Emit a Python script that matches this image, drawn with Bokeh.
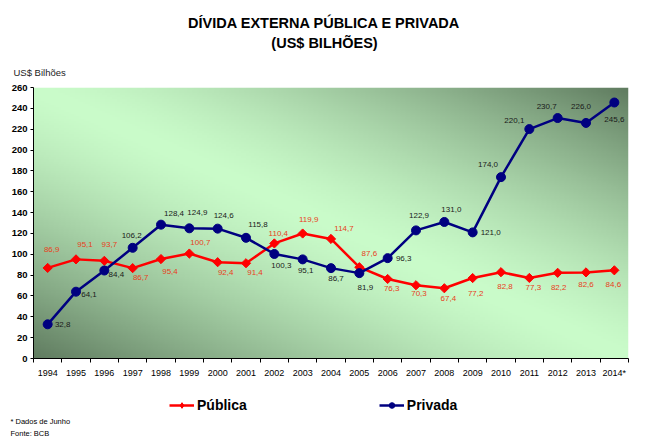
import numpy as np
from bokeh.plotting import figure
from bokeh.layouts import column
from bokeh.models import Range1d, FixedTicker, Legend, LegendItem, ColumnDataSource, Label, Title
from bokeh.core.properties import value
from bokeh.embed import file_html
from bokeh.resources import INLINE

# ---- data ----
years = ["1994", "1995", "1996", "1997", "1998", "1999", "2000", "2001", "2002", "2003",
         "2004", "2005", "2006", "2007", "2008", "2009", "2010", "2011", "2012", "2013", "2014*"]
publica = [86.9, 95.1, 93.7, 86.7, 95.4, 100.7, 92.4, 91.4, 110.4, 119.9, 114.7,
           87.6, 76.3, 70.3, 67.4, 77.2, 82.8, 77.3, 82.2, 82.6, 84.6]
privada = [32.8, 64.1, 84.4, 106.2, 128.4, 124.9, 124.6, 115.8, 100.3, 95.1, 86.7,
           81.9, 96.3, 122.9, 131.0, 121.0, 174.0, 220.1, 230.7, 226.0, 245.6]
y_ticks = list(range(0, 261, 20))

title_1 = "DÍVIDA EXTERNA PÚBLICA E PRIVADA"
title_2 = "(US$ BILHÕES)"
unit_label = "US$ Bilhões"
notes = ["* Dados de Junho", "Fonte: BCB"]

# ---- label placement (pixel offsets, style only) ----
pub_dx = [4, 9, 5, 8, 9, 11, 8, 9, 4, 6, 13, 10, 4, 3, 4, 3, 4, 4, 1, 0, -1]
pub_dy = [-18, -15, -16, 9, 12, -11, 10, 9, -10, -14, -10, -14, 10, 8, 10, 15, 14, 10, 15, 12, 14]
priv_dx = [15, 13, 12, -1, 13, 8, 6, 12, 7, 3, 5, 6, 16, 3, 7, 18, -13, -15, -11, -5, 0]
priv_dy = [0, 3, 4, -12, -11, -16, -13, -13, 12, 11, 10, 14, 0, -15, -12, 0, -13, -9, -12, -16, 17]

FONT = "Liberation Sans"
RED = "#ff0000"
NAVY = "#000080"
W_TOTAL = 649
H_TOP, H_BOT = 54, 58
FL, FR = 33, 628          # frame left/right in page pixels (frames are aligned by the column)

# ================= header figure (titles) =================
p0 = figure(width=W_TOTAL, height=H_TOP, output_backend="svg", toolbar_location=None,
            x_range=Range1d(FL, FR), y_range=Range1d(0, H_TOP),
            x_axis_type=None, y_axis_type=None, min_border=0)
p0.outline_line_color = None
p0.grid.visible = False
p0.add_layout(Label(x=324, y=H_TOP - 22, text=title_1, text_font=FONT, text_font_size="14.5px",
                    text_font_style="bold", text_align="center", text_baseline="middle",
                    text_color="black"))
p0.add_layout(Label(x=324, y=H_TOP - 42, text=title_2, text_font=FONT, text_font_size="14.5px",
                    text_font_style="bold", text_align="center", text_baseline="middle",
                    text_color="black"))

# ================= main chart =================
xs = list(range(len(years)))
x0, x1 = -0.5, len(years) - 0.5
y0, y1 = 0, 260

p = figure(frame_width=FR - FL, frame_height=271, output_backend="svg", toolbar_location=None,
           x_range=Range1d(x0, x1), y_range=Range1d(y0, y1),
           min_border_left=FL, min_border_right=W_TOTAL - FR, min_border_top=32, min_border_bottom=30,
           title=unit_label)
p.title.align = "left"
p.title.offset = -20
p.title.text_font = FONT
p.title.text_font_size = "9.5px"
p.title.text_font_style = "normal"
p.title.text_color = "#222222"
p.title.standoff = 20
p.outline_line_color = None
p.grid.visible = False
p.background_fill_color = "white"
p.border_fill_color = "white"

# gradient background of the plot area
H, W = 120, 240
xn = np.linspace(0, 1, W)[None, :]
yn = np.linspace(0, 1, H)[:, None]
s = np.abs(xn + yn - 1.0)
w = np.clip(s, 0, 1) ** 1.4
light = np.array([202, 252, 202])
dark = np.array([96, 124, 96])
rgb = light[None, None, :] * (1 - w[..., None]) + dark[None, None, :] * w[..., None]
img = np.empty((H, W), dtype=np.uint32)
view = img.view(dtype=np.uint8).reshape((H, W, 4))
view[..., 0] = rgb[..., 0].astype(np.uint8)
view[..., 1] = rgb[..., 1].astype(np.uint8)
view[..., 2] = rgb[..., 2].astype(np.uint8)
view[..., 3] = 255
p.image_rgba(image=[img], x=x0, y=y0, dw=x1 - x0, dh=y1 - y0)

# axes
p.xaxis.ticker = FixedTicker(ticks=xs, minor_ticks=[i - 0.5 for i in range(len(years) + 1)])
p.xaxis.major_label_overrides = {i: t for i, t in enumerate(years)}
p.xaxis.major_tick_out = 0
p.xaxis.major_tick_in = 0
p.xaxis.minor_tick_out = 4
p.xaxis.minor_tick_in = 0
p.xaxis.major_label_standoff = 5
p.xaxis.major_label_text_font = FONT
p.xaxis.major_label_text_font_size = "9px"
p.xaxis.major_label_text_color = "black"

p.yaxis.ticker = FixedTicker(ticks=y_ticks, minor_ticks=[])
p.yaxis.major_tick_out = 3
p.yaxis.major_tick_in = 0
p.yaxis.minor_tick_out = 0
p.yaxis.minor_tick_in = 0
p.yaxis.major_label_standoff = 3
p.yaxis.major_label_text_font = FONT
p.yaxis.major_label_text_font_size = "9.5px"
p.yaxis.major_label_text_font_style = "bold"
p.yaxis.major_label_text_color = "black"
for ax in (p.xaxis, p.yaxis):
    ax.axis_line_color = "black"
    ax.major_tick_line_color = "black"
    ax.minor_tick_line_color = "black"

# series
src = ColumnDataSource(dict(x=xs, pub=publica, priv=privada,
                            pub_lbl=[f"{v:.1f}".replace(".", ",") for v in publica],
                            priv_lbl=[f"{v:.1f}".replace(".", ",") for v in privada],
                            pdx=pub_dx, pdy=pub_dy, vdx=priv_dx, vdy=priv_dy))


def draw_series(fig, pub_marker, pub_size, pub_angle):
    r1 = fig.line("x", "pub", source=src, line_color=RED, line_width=2.5)
    r2 = fig.scatter("x", "pub", source=src, marker=pub_marker, size=pub_size, angle=pub_angle,
                     fill_color=RED, line_color=RED)
    r3 = fig.line("x", "priv", source=src, line_color=NAVY, line_width=2.5)
    r4 = fig.scatter("x", "priv", source=src, marker="circle", size=9,
                     fill_color=NAVY, line_color=NAVY)
    return r1, r2, r3, r4


draw_series(p, "square", 6.5, np.pi / 4)
p.text("x", "pub", text="pub_lbl", source=src, x_offset="pdx", y_offset="pdy",
       text_align="center", text_baseline="middle", text_font=value(FONT),
       text_font_size="8px", text_color="#e8401c")
p.text("x", "priv", text="priv_lbl", source=src, x_offset="vdx", y_offset="vdy",
       text_align="center", text_baseline="middle", text_font=value(FONT),
       text_font_size="8px", text_color="#1a1a1a")

# ================= footer figure (legend + notes) =================
# same series drawn here only to feed the legend; they fall outside this figure's ranges
p2 = figure(width=W_TOTAL, height=H_BOT, output_backend="svg", toolbar_location=None,
            x_range=Range1d(FL, FR), y_range=Range1d(0, 10),
            x_axis_type=None, y_axis_type=None, min_border=0, min_border_bottom=33)
p2.outline_line_color = None
p2.grid.visible = False
k1, k2, k3, k4 = draw_series(p2, "diamond", 11, 0)
legend = Legend(items=[LegendItem(label="Pública", renderers=[k1, k2]),
                       LegendItem(label="Privada", renderers=[k3, k4])],
                orientation="horizontal", location=(136, 0), spacing=132,
                glyph_width=25, glyph_height=14, label_standoff=3,
                label_text_font=FONT, label_text_font_size="14px",
                label_text_font_style="bold", label_text_color="black",
                border_line_color=None, background_fill_alpha=0,
                padding=0, margin=0)
p2.add_layout(legend, "center")
for txt, so in zip(notes, (2, 1)):
    p2.add_layout(Title(text=txt, align="left", offset=-23, text_font=FONT,
                        text_font_size="7.5px", text_font_style="normal",
                        text_color="black", standoff=so), "below")

layout = column(p0, p, p2, spacing=0)
open("out.html", "w").write(file_html(layout, INLINE))
